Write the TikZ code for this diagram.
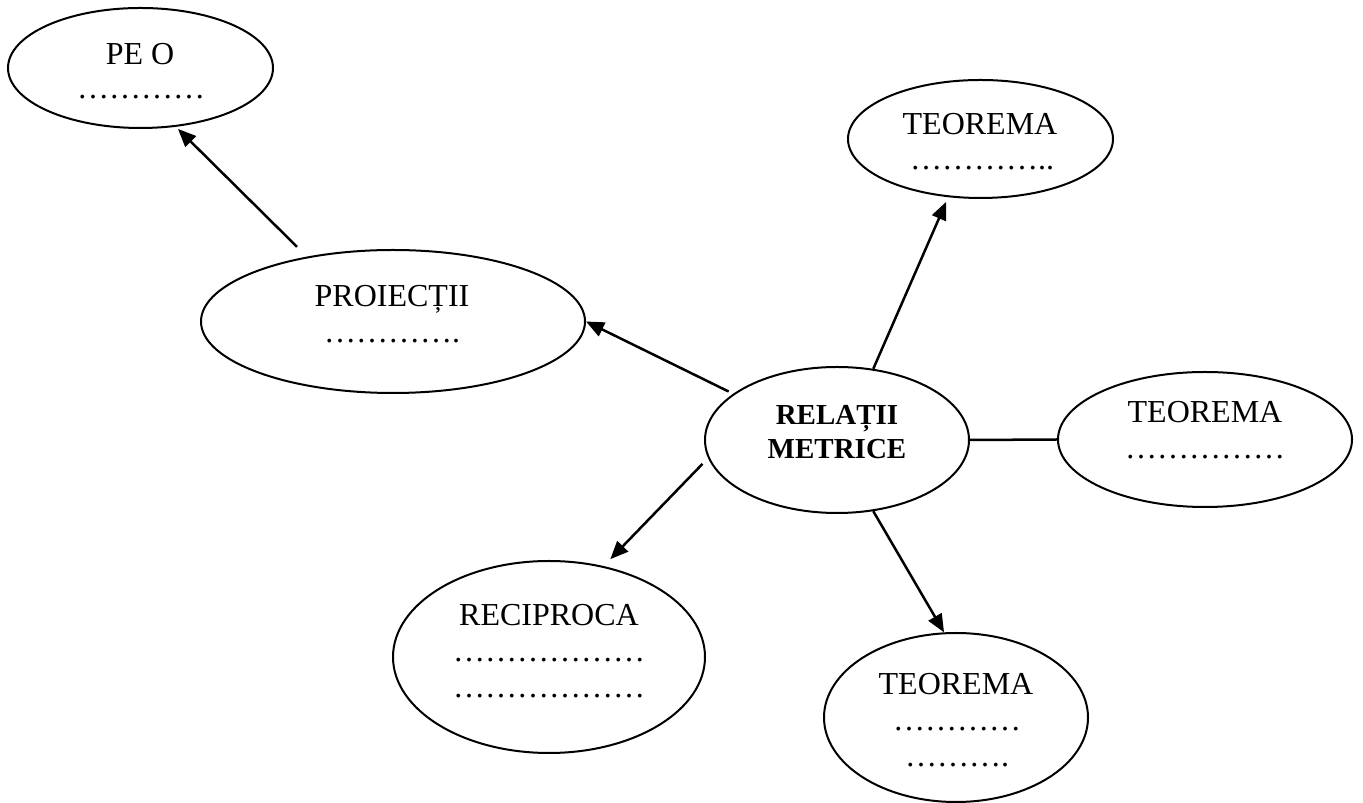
\documentclass[tikz,border=0pt]{standalone}
\usepackage{fontspec}
\setmainfont{Liberation Serif}
\usetikzlibrary{shapes.geometric,arrows.meta}
\begin{document}
\begin{tikzpicture}[x=1pt,y=1pt,
  oval/.style={draw=black, line width=2pt, ellipse, inner sep=0pt},
  txt/.style={anchor=base, inner sep=0pt, font=\fontsize{32}{36}\selectfont},
  btxt/.style={anchor=base, inner sep=0pt, font=\fontsize{29}{33}\selectfont\bfseries},
  arr/.style={line width=2.5pt, -{Triangle[length=18pt,width=15pt]}},
  conn/.style={line width=2.5pt}]
\useasboundingbox (0,0) rectangle (1363,803);

% ellipses
\node[oval, minimum width=265pt, minimum height=120pt] (peo) at (140.5,735) {};
\node[oval, minimum width=384pt, minimum height=143pt] (proj) at (393,481.5) {};
\node[oval, minimum width=264pt, minimum height=146pt] (rel) at (837,363) {};
\node[oval, minimum width=265pt, minimum height=118pt] (t1) at (980.5,664) {};
\node[oval, minimum width=294pt, minimum height=135pt] (t2) at (1205,363.5) {};
\node[oval, minimum width=312pt, minimum height=192pt] (rec) at (549,146) {};
\node[oval, minimum width=264pt, minimum height=169pt] (t3) at (956,85.5) {};

% texts
\node[txt] (peoA) at (140,738) {PE O};
\node[txt] (peoB) at (141,704) {…………};
\node[txt] (projA) at (392,496) {PROIECȚII};
\node[txt] (projB) at (392,460) {………….};
\node[btxt] (relA) at (837,378) {RELAȚII};
\node[btxt] (relB) at (837,344) {METRICE};
\node[txt] (t1A) at (980,668) {TEOREMA};
\node[txt] (t1B) at (982,633) {…………..};
\node[txt] (t2A) at (1205,380) {TEOREMA};
\node[txt] (t2B) at (1205,344) {……………};
\node[txt] (recA) at (549,177) {RECIPROCA};
\node[txt] (recB) at (549,141) {………………};
\node[txt] (recC) at (549,105) {………………};
\node[txt] (t3A) at (956,108) {TEOREMA};
\node[txt] (t3B) at (957,72) {…………};
\node[txt] (t3C) at (957,36) {……….};

% connectors
\draw[arr, shorten <=13.9pt, shorten >=3pt] (proj.143.9) -- (peo.-59);
\draw[arr, shorten <=5pt] (rel.156.7) -- (proj.0);
\draw[arr, shorten >=5pt] (rel.63.4) -- (t1.-119);
\draw[conn] (rel.0) -- (t2.180);
\draw[arr, shorten <=8pt, shorten >=9.6pt] (rel.188.6) -- (rec.59.5);
\draw[arr] (rel.-63) -- (t3.98);
\end{tikzpicture}
\end{document}
